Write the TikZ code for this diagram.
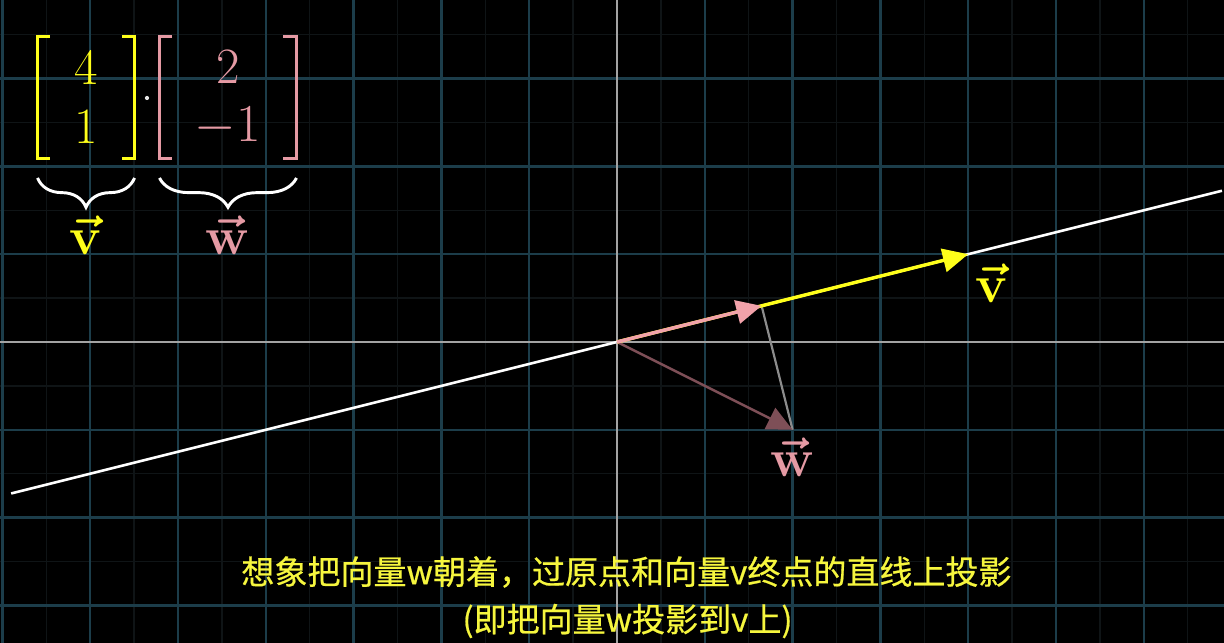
\documentclass[tikz,border=0pt]{standalone}
\usepackage{fontspec}
\usepackage{amsmath,bm}
\newfontfamily\cjk[FakeBold=0.6]{Noto Sans CJK SC}
\usetikzlibrary{arrows.meta,decorations.pathreplacing}
\definecolor{gridmain}{HTML}{1C3D4A}
\definecolor{gridsub}{HTML}{0F1416}
\definecolor{axiscol}{HTML}{A3A3A3}
\definecolor{vyel}{HTML}{FFFF1A}
\definecolor{wpink}{HTML}{E59AA4}
\definecolor{projpink}{HTML}{F2A2AA}
\definecolor{wdark}{HTML}{7E4F57}
\definecolor{projgray}{HTML}{8C8C8C}
\definecolor{subyel}{HTML}{F6F63E}
\tikzset{
  bigfont/.style={font=\fontsize{16.5}{19}\selectfont},
  subfont/.style={font=\cjk\fontsize{10.7}{13}\selectfont, text=subyel},
  bracketline/.style={line width=1pt},
  vecarrow/.style={-{Triangle[length=8.2pt,width=7.6pt]}},
  bracebrace/.style={white, line width=0.95pt, decorate, decoration={brace, mirror, amplitude=9.5pt}}
}
\begin{document}
\begin{tikzpicture}
\useasboundingbox (-7.0273,-3.4282) rectangle (6.9134,3.8952);
\fill[black] (-7.0273,-3.4282) rectangle (6.9134,3.8952);
\begin{scope}
\clip (-7.0273,-3.4282) rectangle (6.9134,3.8952);
% faint sub grid
\foreach \x in {-7.5,-6.5,...,6.6} \draw[gridsub, line width=0.4pt] (\x,-4) -- (\x,4);
\foreach \y in {-3.5,-2.5,...,3.6} \draw[gridsub, line width=0.4pt] (-8,\y) -- (7,\y);
% main grid
\foreach \x in {-7,...,6} \draw[gridmain, line width=0.75pt] (\x,-4) -- (\x,4);
\foreach \y in {-3,...,3} \draw[gridmain, line width=0.75pt] (-8,\y) -- (7,\y);
% axes
\draw[axiscol, line width=0.65pt] (0,-4) -- (0,4);
\draw[axiscol, line width=0.65pt] (-8,0) -- (7,0);

\coordinate (O) at (0,0);
\coordinate (V) at (4,1);
\coordinate (P) at ({28/17},{7/17});
\coordinate (W) at (2,-1);
\coordinate (L1) at (-6.9,-1.725);
\coordinate (L2) at (6.89,1.7225);

% line through v
\draw[white, line width=0.85pt] (L1) -- (L2);
% w vector and projection line
\draw[projgray, line width=0.7pt] (P) -- (W);
\draw[wdark, line width=0.8pt, vecarrow] (O) -- (W);
% v vector
\draw[vyel, line width=1.1pt, vecarrow] (O) -- (V);
% projection vector
\draw[projpink, line width=1.1pt, vecarrow] (O) -- (P);

% labels on plane
\node[bigfont, text=vyel] (vlab) at (4.268,0.668) {$\bm{\vec{\mathbf{v}}}$};
\node[bigfont, text=wpink] (wlab) at (1.995,-1.314) {$\bm{\vec{\mathbf{w}}}$};

% matrices
\draw[vyel, bracketline] (-6.458,3.48) -- (-6.60,3.48) -- (-6.60,2.09) -- (-6.458,2.09);
\draw[vyel, bracketline] (-5.638,3.48) -- (-5.495,3.48) -- (-5.495,2.09) -- (-5.638,2.09);
\draw[wpink, bracketline] (-5.068,3.48) -- (-5.211,3.48) -- (-5.211,2.09) -- (-5.068,2.09);
\draw[wpink, bracketline] (-3.804,3.48) -- (-3.650,3.48) -- (-3.650,2.09) -- (-3.804,2.09);
\node[bigfont, text=vyel] (m4) at (-6.048,3.132) {4};
\node[bigfont, text=vyel] (m1) at (-6.048,2.449) {1};
\node[bigfont, text=wpink] (m2) at (-4.431,3.132) {2};
\node[bigfont, text=wpink] (mm1) at (-4.431,2.449) {$-1$};
\fill[white!90!black] (-5.353,2.779) circle (0.024);

% braces
\draw[bracebrace] (-6.60,1.868) -- (-5.495,1.868);
\draw[bracebrace] (-5.211,1.868) -- (-3.650,1.868);
\node[bigfont, text=vyel] (bv) at (-6.048,1.219) {$\bm{\vec{\mathbf{v}}}$};
\node[bigfont, text=wpink] (bw) at (-4.431,1.219) {$\bm{\vec{\mathbf{w}}}$};

% subtitles
\node[subfont] (s1) at (0.108,-2.620) {想象把向量w朝着，过原点和向量v终点的直线上投影};
\node[subfont] (s2) at (0.12,-3.178) {(即把向量w投影到v上)};
\end{scope}
\end{tikzpicture}
\end{document}
